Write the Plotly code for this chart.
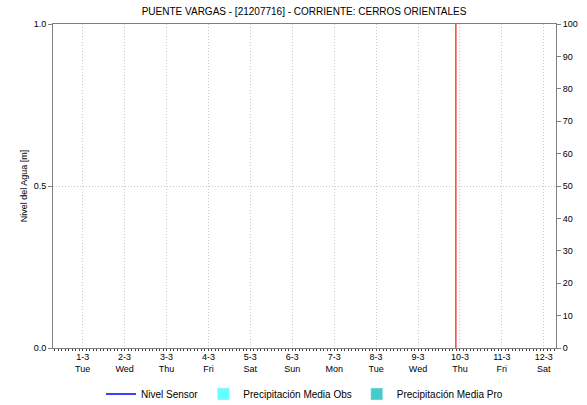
import plotly.graph_objects as go

# datos de la estacion (sin registros en el periodo mostrado)
dias = ['2022-03-01', '2022-03-02', '2022-03-03', '2022-03-04', '2022-03-05', '2022-03-06',
        '2022-03-07', '2022-03-08', '2022-03-09', '2022-03-10', '2022-03-11', '2022-03-12']
etiquetas = ['1-3<br>Tue', '2-3<br>Wed', '3-3<br>Thu', '4-3<br>Fri', '5-3<br>Sat', '6-3<br>Sun',
             '7-3<br>Mon', '8-3<br>Tue', '9-3<br>Wed', '10-3<br>Thu', '11-3<br>Fri', '12-3<br>Sat']
nivel_sensor = [None] * 12   # sin datos del sensor
precip_obs = [None] * 12
precip_pro = [None] * 12
fecha_actual = '2022-03-09 21:40'
rango_x = ['2022-02-28 07:00', '2022-03-12 07:00']

fuente = 'Liberation Sans, Arial, sans-serif'

fig = go.Figure()
fig.add_trace(go.Scatter(x=dias, y=nivel_sensor, name='Nivel Sensor', mode='lines',
                         line=dict(color='#0000FF', width=1.5)))
fig.add_trace(go.Bar(x=dias, y=precip_obs, name='Precipitación Media Obs',
                     marker_color='#66FFFF', yaxis='y2'))
fig.add_trace(go.Bar(x=dias, y=precip_pro, name='Precipitación Media Pro',
                     marker_color='#44CCCC', yaxis='y2'))

# linea roja de la fecha actual
fig.add_shape(type='line', x0=fecha_actual, x1=fecha_actual, y0=0, y1=1,
              xref='x', yref='paper', line=dict(color='#FF2020', width=1.3))

fig.update_layout(
    width=587, height=405,
    margin=dict(l=53, r=31, t=24, b=57, autoexpand=False),
    paper_bgcolor='white', plot_bgcolor='white',
    font=dict(family=fuente, size=9, color='#000000'),
    title=dict(text='PUENTE VARGAS - [21207716] - CORRIENTE: CERROS ORIENTALES',
               x=0.518, xanchor='center', y=0.972, yanchor='middle',
               font=dict(size=10)),
    xaxis=dict(
        type='date', range=rango_x,
        tickvals=dias, ticktext=etiquetas, ticks='',
        showgrid=True, gridcolor='#C8C8C8', griddash='1px,2px', gridwidth=1,
        showline=True, linecolor='#808080', linewidth=1, mirror=True,
        minor=dict(dtick=3600000 * 2, ticks='outside', ticklen=2, tickcolor='#404040', showgrid=False),
        tickfont=dict(size=9), zeroline=False,
    ),
    yaxis=dict(
        title=dict(text='Nivel del Agua [m]', font=dict(size=9), standoff=4),
        range=[0, 1], tickvals=[0, 0.5, 1], tickformat='.1f',
        ticks='outside', ticklen=4, tickcolor='#808080',
        showgrid=True, gridcolor='#C8C8C8', griddash='1px,2px',
        showline=True, linecolor='#808080', linewidth=1, zeroline=False,
    ),
    yaxis2=dict(
        overlaying='y', side='right', range=[0, 100], dtick=10,
        ticks='outside', ticklen=4, tickcolor='#808080',
        showgrid=False, showline=True, linecolor='#808080', linewidth=1, zeroline=False,
    ),
    legend=dict(orientation='h', x=0.5, xanchor='center', y=-0.142, yanchor='middle',
                font=dict(size=10), itemwidth=30, tracegroupgap=0),
    showlegend=True,
    barmode='group',
)

# titulo del eje derecho, recortado por el borde como en la imagen original
fig.add_annotation(text='Precipitación [mm]', textangle=90, xref='paper', yref='paper',
                   x=1.06, y=0.5, xanchor='left', yanchor='middle', showarrow=False,
                   font=dict(size=9))

# quitar el margen del body para que la figura quede en la esquina
fig.write_html('out.html', config={'displayModeBar': False},
               post_script="document.body.style.margin='0';")
